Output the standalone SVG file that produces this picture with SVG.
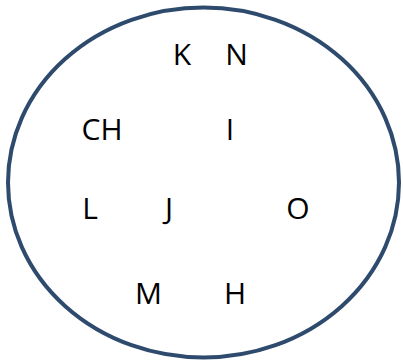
<svg xmlns="http://www.w3.org/2000/svg" width="403" height="363" viewBox="0 0 403 363">
<style>
.lbl{font-family:"Open Sans","Liberation Sans",sans-serif;font-size:30px;fill:#000;text-anchor:middle}
</style>
<rect width="403" height="363" fill="#fff"/>
<g id="set">
<ellipse cx="203.5" cy="182.5" rx="195.5" ry="175" fill="none" stroke="#2E4A6D" stroke-width="4"/>
</g>
<g id="connectors"></g>
<g id="node-K"><text class="lbl" x="182" y="65">K</text></g>
<g id="node-N"><text class="lbl" x="236.5" y="65">N</text></g>
<g id="node-CH"><text class="lbl" x="102" y="140">CH</text></g>
<g id="node-I"><text class="lbl" x="230" y="140">I</text></g>
<g id="node-L"><text class="lbl" x="90" y="219">L</text></g>
<g id="node-J"><text class="lbl" x="169" y="219">J</text></g>
<g id="node-O"><text class="lbl" x="298" y="219">O</text></g>
<g id="node-M"><text class="lbl" x="148.5" y="304">M</text></g>
<g id="node-H"><text class="lbl" x="235" y="304">H</text></g>
</svg>
